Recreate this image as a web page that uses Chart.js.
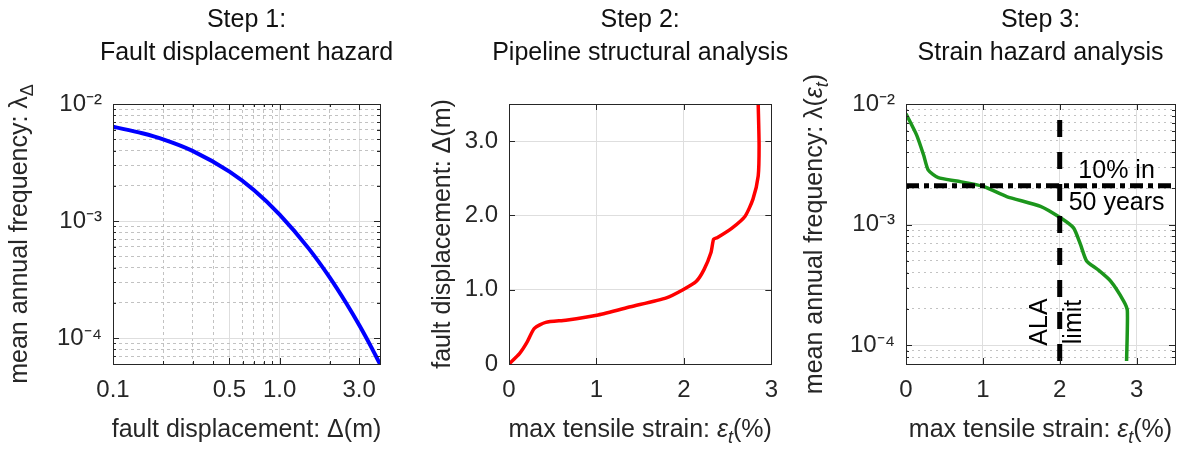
<!DOCTYPE html>
<html>
<head>
<meta charset="utf-8">
<script src="https://cdn.jsdelivr.net/npm/chart.js@4.4.1/dist/chart.umd.min.js"></script>
<style>
  html, body { margin: 0; padding: 0; background: #fff; }
  #wrap { position: relative; width: 1184px; height: 450px; background: #fff; }
  canvas { position: absolute; top: 0; }
</style>
</head>
<body>
<div id="wrap">
  <canvas id="hazard" width="395" height="450" style="left:0"></canvas>
  <canvas id="pipe" width="395" height="450" style="left:395px"></canvas>
  <canvas id="strain" width="394" height="450" style="left:790px"></canvas>
</div>
<script>
// Step 1: fault displacement hazard (displacement in m, annual frequency)
const hazDisp = [0.1, 0.15, 0.2, 0.3, 0.5, 0.7, 1.0, 1.5, 2.0, 2.5, 3.0, 3.5, 4.0];
const hazFreq = [6.39e-3, 5.62e-3, 4.99e-3, 3.98e-3, 2.64e-3, 1.84e-3, 1.135e-3, 5.78e-4, 3.28e-4, 2.0e-4, 1.29e-4, 8.65e-5, 6.0e-5];

// Step 2: pipeline response (max tensile strain in %, fault displacement in m)
const pipeStrain = [0, 0.12, 0.2, 0.29, 0.42, 0.65, 1.02, 1.39, 1.8, 1.99, 2.14, 2.23, 2.31, 2.34, 2.38, 2.55, 2.7, 2.79, 2.85, 2.86, 2.85];
const pipeDisp = [0, 0.14, 0.28, 0.48, 0.56, 0.59, 0.66, 0.77, 0.89, 1.0, 1.11, 1.27, 1.5, 1.68, 1.7, 1.83, 1.99, 2.22, 2.53, 2.94, 3.5];

// Step 3: strain hazard curve
const strainPct = [0, 0.14, 0.23, 0.29, 0.42, 0.66, 1.01, 1.31, 1.75, 2.01, 2.18, 2.27, 2.35, 2.49, 2.66, 2.83, 2.88, 2.87];
const strainFreq = [8.3e-3, 5.5e-3, 3.76e-3, 2.83e-3, 2.45e-3, 2.3e-3, 2.07e-3, 1.71e-3, 1.42e-3, 1.14e-3, 9.4e-4, 6.85e-4, 5.0e-4, 4.27e-4, 3.42e-4, 2.34e-4, 1.94e-4, 7.4e-5];
const hazardLevel = 0.0021; // 10% in 50 years
const alaLimit = 2;         // ALA strain limit (%)

// tick values and labels
const hazDispTicks = [0.1, 0.5, 1.0, 3.0];
const hazDispLabels = ['0.1', '0.5', '1.0', '3.0'];
const freqTicks = [1e-4, 1e-3, 1e-2];
const freqLabels = ['10\u207B\u2074', '10\u207B\u00B3', '10\u207B\u00B2'];
const strainTicks = [0, 1, 2, 3];
const strainLabels = ['0', '1', '2', '3'];
const dispTicks = [0, 1, 2, 3];
const dispLabels = ['0', '1.0', '2.0', '3.0'];

const FONT = "'Liberation Sans', Arial, Helvetica, sans-serif";
const INK = '#262626';

Chart.defaults.font.family = FONT;
Chart.defaults.color = INK;

// all 1..9 x 10^n positions inside [min, max], for the log grids
function logGrid(min, max) {
  const out = [];
  for (let e = Math.floor(Math.log10(min)); e <= Math.ceil(Math.log10(max)); e++) {
    for (let m = 1; m <= 9; m++) {
      const v = +(m * Math.pow(10, e)).toPrecision(6);
      if (v >= min * 0.999 && v <= max * 1.001) out.push(v);
    }
  }
  return out;
}

function same(a, b) { return Math.abs(a - b) <= 1e-9 * Math.max(1, Math.abs(a)); }

function axis(cfg) {
  const isMajor = v => cfg.ticks.some(t => same(t, v));
  return {
    type: cfg.type,
    min: cfg.min,
    max: cfg.max,
    afterBuildTicks: s => { s.ticks = (cfg.grid || cfg.ticks).map(v => ({ value: v })); },
    afterFit: s => { if (s.isHorizontal()) s.height = cfg.size; else s.width = cfg.size; },
    ticks: {
      autoSkip: false,
      maxRotation: 0,
      padding: cfg.pad,
      font: { size: 24 },
      color: INK,
      callback: v => {
        const i = cfg.ticks.findIndex(t => same(t, v));
        return i >= 0 ? cfg.labels[i] : '';
      }
    },
    grid: {
      drawTicks: false,
      lineWidth: 1,
      color: c => (c.tick && !isMajor(c.tick.value)) ? '#c2c2c2' : '#dedede'
    },
    border: {
      display: false,
      dash: c => (c.tick && !isMajor(c.tick.value)) ? cfg.dash : []
    }
  };
}

// rich text: segments with italic / subscript parts
function drawRich(ctx, segs, x, y, angle, size, color) {
  ctx.save();
  ctx.translate(x, y);
  ctx.rotate(angle);
  const fontOf = s => (s.i ? 'italic ' : '') + (s.sub ? Math.round(size * 0.72) : size) + 'px ' + FONT;
  const widths = segs.map(s => { ctx.font = fontOf(s); return ctx.measureText(s.t).width; });
  let cx = -widths.reduce((a, b) => a + b, 0) / 2;
  ctx.textBaseline = 'middle';
  ctx.textAlign = 'left';
  ctx.fillStyle = color;
  segs.forEach((s, k) => {
    ctx.font = fontOf(s);
    ctx.fillText(s.t, cx, s.sub ? size * 0.32 : 0);
    cx += widths[k];
  });
  ctx.restore();
}

// frame, inward tick marks, titles and notes
const panelPlugin = {
  id: 'panel',
  afterDatasetsDraw(chart) {
    const { ctx, chartArea: a, scales } = chart;
    ctx.save();
    ctx.strokeStyle = INK;
    ctx.lineWidth = 1;
    ctx.beginPath();
    ['x', 'y'].forEach(id => {
      const s = scales[id];
      s.ticks.forEach(t => {
        const len = t.label ? 6 : 3;
        const p = Math.round(s.getPixelForValue(t.value)) + 0.5;
        if (id === 'x') {
          ctx.moveTo(p, a.bottom); ctx.lineTo(p, a.bottom - len);
          ctx.moveTo(p, a.top); ctx.lineTo(p, a.top + len);
        } else {
          ctx.moveTo(a.left, p); ctx.lineTo(a.left + len, p);
          ctx.moveTo(a.right, p); ctx.lineTo(a.right - len, p);
        }
      });
    });
    ctx.stroke();
    ctx.strokeRect(Math.round(a.left) + 0.5, Math.round(a.top) + 0.5,
      Math.round(a.right - a.left), Math.round(a.bottom - a.top));
    ctx.restore();
  },
  afterDraw(chart, args, o) {
    const { ctx, chartArea: a, scales } = chart;
    const mid = (a.left + a.right) / 2;
    ctx.save();
    ctx.font = '25px ' + FONT;
    ctx.fillStyle = '#111';
    ctx.textAlign = 'center';
    ctx.textBaseline = 'middle';
    ctx.fillText(o.title[0], mid, 20);
    ctx.fillText(o.title[1], mid, 53);
    ctx.restore();
    drawRich(ctx, o.xTitle, mid, 430, 0, 25, INK);
    drawRich(ctx, o.yTitle, a.left - o.yGap, (a.top + a.bottom) / 2, -Math.PI / 2, 25, INK);
    (o.notes || []).forEach(n => {
      const px = scales.x.getPixelForValue(n.x);
      const py = scales.y.getPixelForValue(n.y);
      drawRich(ctx, [{ t: n.t }], px, py, n.rot ? -Math.PI / 2 : 0, 25, '#000');
    });
  }
};

const strainTitle = [{ t: 'max tensile strain: ' }, { t: '\u03B5', i: true }, { t: 't', i: true, sub: true }, { t: '(%)' }];
const dispTitle = [{ t: 'fault displacement: \u0394(m)' }];

function pts(xs, ys) { return xs.map((x, i) => ({ x, y: ys[i] })); }

function baseOptions(xAxis, yAxis, plot, right) {
  return {
    responsive: false,
    animation: false,
    layout: { padding: { top: 104, right: right, left: 0, bottom: 0 } },
    scales: { x: xAxis, y: yAxis },
    plugins: { legend: { display: false }, tooltip: { enabled: false }, panel: plot }
  };
}

// Step 1
new Chart(document.getElementById('hazard'), {
  type: 'scatter',
  data: {
    datasets: [{
      data: pts(hazDisp, hazFreq),
      showLine: true,
      borderColor: '#0000ff',
      borderWidth: 4,
      pointRadius: 0,
      cubicInterpolationMode: 'monotone'
    }]
  },
  options: baseOptions(
    axis({ type: 'logarithmic', min: 0.1, max: 4, ticks: hazDispTicks, labels: hazDispLabels,
      grid: logGrid(0.1, 4), size: 86, pad: 12, dash: [3, 3] }),
    axis({ type: 'logarithmic', min: 6e-5, max: 1e-2, ticks: freqTicks, labels: freqLabels,
      grid: logGrid(6e-5, 1e-2), size: 113, pad: 11, dash: [3, 3] }),
    { title: ['Step 1:', 'Fault displacement hazard'], xTitle: dispTitle,
      yTitle: [{ t: 'mean annual frequency: \u03BB' }, { t: '\u0394', sub: true }], yGap: 93 },
    15
  ),
  plugins: [panelPlugin]
});

// Step 2
new Chart(document.getElementById('pipe'), {
  type: 'scatter',
  data: {
    datasets: [{
      data: pts(pipeStrain, pipeDisp),
      showLine: true,
      borderColor: '#ff0000',
      borderWidth: 3.5,
      pointRadius: 0,
      tension: 0.2
    }]
  },
  options: baseOptions(
    axis({ type: 'linear', min: 0, max: 3, ticks: strainTicks, labels: strainLabels, size: 86, pad: 12, dash: [] }),
    axis({ type: 'linear', min: 0, max: 3.5, ticks: dispTicks, labels: dispLabels, size: 114, pad: 11, dash: [] }),
    { title: ['Step 2:', 'Pipeline structural analysis'], xTitle: strainTitle, yTitle: dispTitle, yGap: 66 },
    13
  ),
  plugins: [panelPlugin]
});

// Step 3
new Chart(document.getElementById('strain'), {
  type: 'scatter',
  data: {
    datasets: [
      {
        data: pts(strainPct, strainFreq),
        showLine: true,
        borderColor: '#1c961c',
        borderWidth: 3.5,
        pointRadius: 0,
        tension: 0.2,
        order: 2
      },
      {
        data: [{ x: 0, y: hazardLevel }, { x: 3.5, y: hazardLevel }],
        showLine: true,
        borderColor: '#000',
        borderWidth: 5,
        borderDash: [13, 5, 5, 5],
        pointRadius: 0,
        order: 1
      },
      {
        data: [{ x: alaLimit, y: 7.4e-5 }, { x: alaLimit, y: 1e-2 }],
        showLine: true,
        borderColor: '#000',
        borderWidth: 5,
        borderDash: [17, 15],
        pointRadius: 0,
        order: 0
      }
    ]
  },
  options: baseOptions(
    axis({ type: 'linear', min: 0, max: 3.5, ticks: strainTicks, labels: strainLabels, size: 86, pad: 12, dash: [] }),
    axis({ type: 'logarithmic', min: 7.4e-5, max: 1e-2, ticks: freqTicks, labels: freqLabels,
      grid: logGrid(7.4e-5, 1e-2), size: 116, pad: 11, dash: [2, 4] }),
    { title: ['Step 3:', 'Strain hazard analysis'], xTitle: strainTitle,
      yTitle: [{ t: 'mean annual frequency: \u03BB(' }, { t: '\u03B5', i: true }, { t: 't', i: true, sub: true }, { t: ')' }],
      yGap: 91,
      notes: [
        { t: '10% in', x: 2.74, y: 2.76e-3 },
        { t: '50 years', x: 2.74, y: 1.51e-3 },
        { t: 'ALA', x: 1.75, y: 1.56e-4, rot: true },
        { t: 'limit', x: 2.19, y: 1.56e-4, rot: true }
      ] },
    9
  ),
  plugins: [panelPlugin]
});
</script>
</body>
</html>
